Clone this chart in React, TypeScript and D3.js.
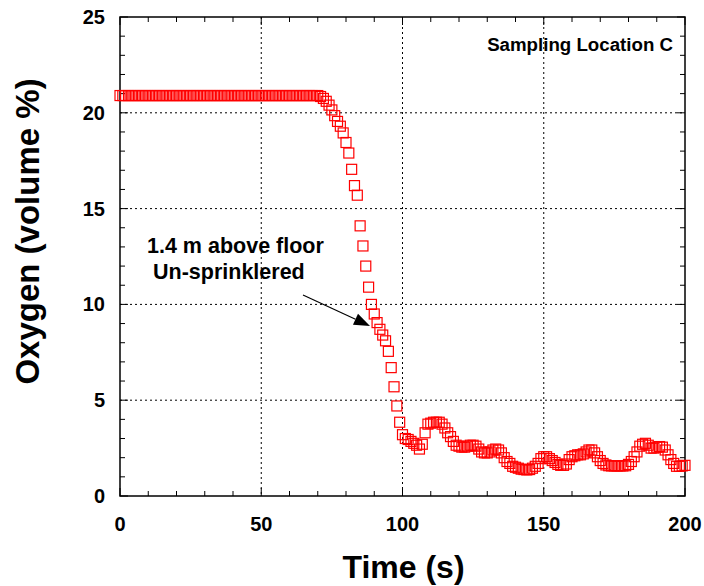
import React from "react";
import * as d3 from "d3";

// Time (s), sampled every 1 s from 0 to 200
const times: number[] = Array.from({ length: 201 }, (_, i) => i);

// Oxygen (volume %) readings, one per second
const oxygen: number[] = [
  // 0-9
  20.9, 20.9, 20.9, 20.9, 20.9, 20.9, 20.9, 20.9, 20.9, 20.9,
  // 10-19
  20.9, 20.9, 20.9, 20.9, 20.9, 20.9, 20.9, 20.9, 20.9, 20.9,
  // 20-29
  20.9, 20.9, 20.9, 20.9, 20.9, 20.9, 20.9, 20.9, 20.9, 20.9,
  // 30-39
  20.9, 20.9, 20.9, 20.9, 20.9, 20.9, 20.9, 20.9, 20.9, 20.9,
  // 40-49
  20.9, 20.9, 20.9, 20.9, 20.9, 20.9, 20.9, 20.9, 20.9, 20.9,
  // 50-59
  20.9, 20.9, 20.9, 20.9, 20.9, 20.9, 20.9, 20.9, 20.9, 20.9,
  // 60-69
  20.9, 20.9, 20.9, 20.9, 20.9, 20.9, 20.9, 20.9, 20.9, 20.9,
  // 70-79
  20.9, 20.85, 20.75, 20.6, 20.4, 20.15, 19.85, 19.55, 19.3, 18.95,
  // 80-89
  18.45, 17.9, 17.05, 16.2, 15.7, 14.1, 13.05, 12.0, 10.9, 10.0,
  // 90-99
  9.5, 9.05, 8.7, 8.4, 8.1, 7.55, 6.7, 5.7, 4.7, 3.85,
  // 100-109
  3.2, 3.0, 2.95, 2.85, 2.75, 2.65, 2.45, 2.7, 3.3, 3.75,
  // 110-119
  3.8, 3.85, 3.85, 3.85, 3.75, 3.55, 3.3, 3.1, 2.85, 2.65,
  // 120-129
  2.6, 2.55, 2.55, 2.6, 2.65, 2.65, 2.6, 2.45, 2.3, 2.25,
  // 130-139
  2.25, 2.3, 2.4, 2.45, 2.4, 2.25, 2.0, 1.8, 1.7, 1.55,
  // 140-149
  1.5, 1.45, 1.4, 1.38, 1.36, 1.38, 1.45, 1.55, 1.7, 1.95,
  // 150-159
  2.05, 2.05, 1.95, 1.85, 1.75, 1.65, 1.6, 1.6, 1.67, 1.9,
  // 160-169
  2.05, 2.1, 2.15, 2.15, 2.2, 2.3, 2.4, 2.4, 2.25, 2.05,
  // 170-179
  1.85, 1.7, 1.62, 1.58, 1.57, 1.57, 1.57, 1.57, 1.57, 1.58,
  // 180-189
  1.65, 1.8, 2.05, 2.3, 2.6, 2.7, 2.75, 2.65, 2.5, 2.5,
  // 190-199
  2.55, 2.58, 2.55, 2.4, 2.15, 1.9, 1.7, 1.55, 1.55, 1.57,
  // 200
  1.6,
];

const xMajorTicks: number[] = [0, 50, 100, 150, 200];
const yMajorTicks: number[] = [0, 5, 10, 15, 20, 25];
const xMinorTicks: number[] = d3.range(0, 201, 10);
const yMinorTicks: number[] = d3.range(0, 26, 1);

const xTitle = "Time (s)";
const yTitle = "Oxygen (volume %)";
const cornerLabel = "Sampling Location C";
const noteLines: string[] = ["1.4 m above floor", "Un-sprinklered"];

const W = 704;
const H = 586;
const left = 120;
const right = 685;
const top = 17;
const bottom = 496;

const FONT = "'Liberation Sans', Arial, Helvetica, sans-serif";

export default function App() {
  const x = d3.scaleLinear().domain([0, 200]).range([left, right]);
  const y = d3.scaleLinear().domain([0, 25]).range([bottom, top]);

  const ms = 10; // marker size
  const minorLen = 5;
  const majorLen = 8;

  // arrow geometry
  const ax1 = 303, ay1 = 295, ax2 = 370, ay2 = 326;
  const ang = Math.atan2(ay2 - ay1, ax2 - ax1);
  const hl = 16, hw = 6;
  const bx = ax2 - hl * Math.cos(ang);
  const by = ay2 - hl * Math.sin(ang);
  const px = -Math.sin(ang), py = Math.cos(ang);
  const head = `M${ax2},${ay2}L${bx + hw * px},${by + hw * py}L${bx - hw * px},${by - hw * py}Z`;

  return (
    <svg
      width={W}
      height={H}
      viewBox={`0 0 ${W} ${H}`}
      style={{ position: "absolute", left: 0, top: 0, background: "#fff" }}
      fontFamily={FONT}
    >
      <rect x={0} y={0} width={W} height={H} fill="#fff" />
      {/* grid */}
      {xMajorTicks.slice(1, -1).map((t) => (
        <line key={"gx" + t} x1={x(t)} x2={x(t)} y1={top} y2={bottom}
          stroke="#000" strokeWidth={1} strokeDasharray="2,3" />
      ))}
      {yMajorTicks.slice(1, -1).map((t) => (
        <line key={"gy" + t} x1={left} x2={right} y1={y(t)} y2={y(t)}
          stroke="#000" strokeWidth={1} strokeDasharray="2,3" />
      ))}
      {/* minor ticks */}
      {xMinorTicks.map((t) => (
        <g key={"tx" + t}>
          <line x1={x(t)} x2={x(t)} y1={bottom} y2={bottom - (t % 50 === 0 ? majorLen : minorLen)} stroke="#000" strokeWidth={1} />
          <line x1={x(t)} x2={x(t)} y1={top} y2={top + (t % 50 === 0 ? majorLen : minorLen)} stroke="#000" strokeWidth={1} />
        </g>
      ))}
      {yMinorTicks.map((t) => (
        <g key={"ty" + t}>
          <line x1={left} x2={left + (t % 5 === 0 ? majorLen : minorLen)} y1={y(t)} y2={y(t)} stroke="#000" strokeWidth={1} />
          <line x1={right} x2={right - (t % 5 === 0 ? majorLen : minorLen)} y1={y(t)} y2={y(t)} stroke="#000" strokeWidth={1} />
        </g>
      ))}
      {/* frame */}
      <rect x={left} y={top} width={right - left} height={bottom - top} fill="none" stroke="#000" strokeWidth={1.5} />

      {/* data */}
      {times.map((t, i) => (
        <rect key={"p" + i} x={x(t) - ms / 2} y={y(oxygen[i]) - ms / 2} width={ms} height={ms}
          fill="none" stroke="#ff0000" strokeWidth={1.2} />
      ))}

      {/* tick labels */}
      {xMajorTicks.map((t) => (
        <text key={"lx" + t} x={x(t)} y={531} textAnchor="middle" fontSize={20} fontWeight="bold" fill="#000">
          {t}
        </text>
      ))}
      {yMajorTicks.map((t) => (
        <text key={"ly" + t} x={105} y={y(t) + 7} textAnchor="end" fontSize={20} fontWeight="bold" fill="#000">
          {t}
        </text>
      ))}

      {/* titles */}
      <text x={403.5} y={578} textAnchor="middle" fontSize={32} fontWeight="bold" fill="#000">
        {xTitle}
      </text>
      <text transform={`translate(39,${231.5}) rotate(-90)`} textAnchor="middle" fontSize={33} fontWeight="bold" fill="#000">
        {yTitle}
      </text>

      {/* corner label */}
      <text x={673} y={51} textAnchor="end" fontSize={18.7} fontWeight="bold" fill="#000">
        {cornerLabel}
      </text>

      {/* annotation */}
      <text x={147} y={253} fontSize={21.5} fontWeight="bold" fill="#000">{noteLines[0]}</text>
      <text x={153} y={279} fontSize={21.5} fontWeight="bold" fill="#000">{noteLines[1]}</text>
      <line x1={ax1} y1={ay1} x2={bx} y2={by} stroke="#000" strokeWidth={1.2} />
      <path d={head} fill="#000" />
    </svg>
  );
}
